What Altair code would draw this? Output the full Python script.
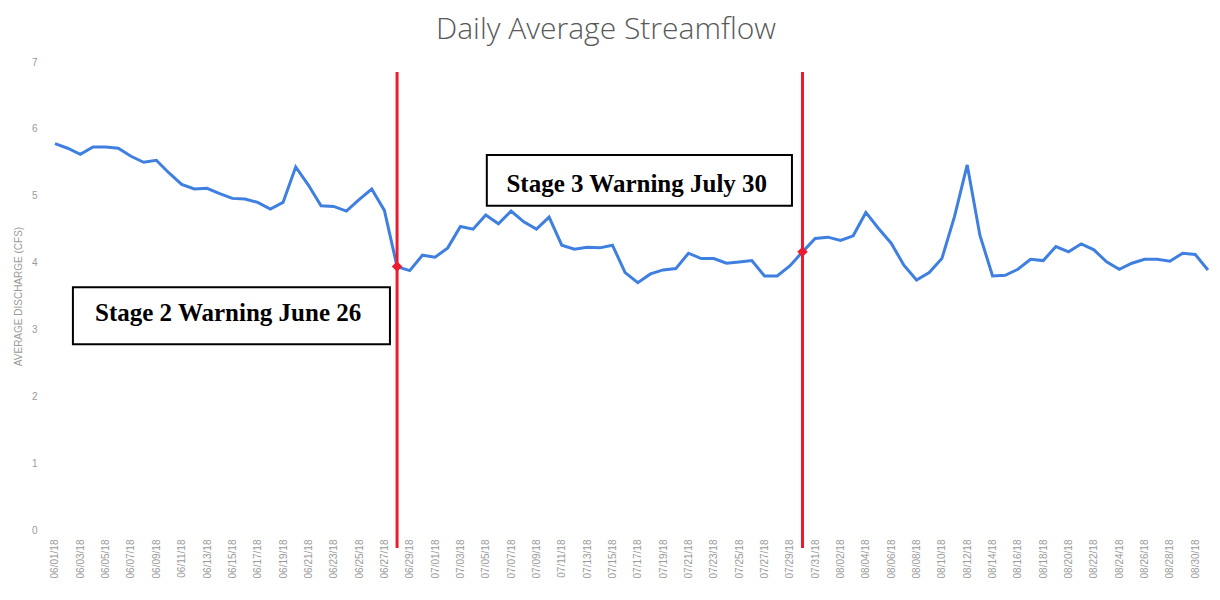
import altair as alt
import pandas as pd

# ---- data ----
dates = [d.strftime("%Y-%m-%d") for d in pd.date_range("2018-06-01", "2018-08-31", freq="D")]
flow = [5.78, 5.71, 5.62, 5.73, 5.73, 5.71, 5.59, 5.50, 5.53, 5.34,
        5.17, 5.10, 5.11, 5.03, 4.96, 4.95, 4.90, 4.80, 4.90, 5.43,
        5.16, 4.85, 4.84, 4.77, 4.94, 5.10, 4.78, 3.94, 3.88, 4.11,
        4.08, 4.22, 4.54, 4.50, 4.71, 4.58, 4.77, 4.61, 4.50, 4.68,
        4.26, 4.20, 4.23, 4.22, 4.26, 3.85, 3.70, 3.83, 3.89, 3.91,
        4.14, 4.06, 4.06, 3.99, 4.01, 4.03, 3.80, 3.80, 3.95, 4.16,
        4.36, 4.38, 4.33, 4.40, 4.75, 4.51, 4.29, 3.96, 3.74, 3.85,
        4.06, 4.69, 5.46, 4.41, 3.80, 3.81, 3.90, 4.05, 4.03, 4.24,
        4.16, 4.28, 4.19, 4.01, 3.90, 3.99, 4.05, 4.05, 4.02, 4.14,
        4.12, 3.89]
warning_dates = ["2018-06-28", "2018-07-30"]
warning_labels = ["Stage 2 Warning June 26", "Stage 3 Warning July 30"]
tick_dates = dates[0:91:2]
y_ticks = [0, 1, 2, 3, 4, 5, 6, 7]

df = pd.DataFrame({"date": dates, "flow": flow})
warn_df = pd.DataFrame({
    "date": warning_dates,
    "flow": [flow[dates.index(d)] for d in warning_dates],
})
one = pd.DataFrame({"k": [0]})


def ms(s):
    return int(pd.Timestamp(s, tz="UTC").value // 10**6)


x_scale = alt.Scale(type="utc", domain=[ms("2018-05-31T10:48"), ms("2018-08-31T07:40")])
y_scale = alt.Scale(domain=[0, 7], nice=False)

BLUE = "#3f7fdf"
RED = "#ec1c2e"
GRAY = "#9a9a9a"

x_axis = alt.Axis(
    values=[ms(d) for d in tick_dates],
    format="%m/%d/%y",
    labelAngle=-90,
    labelColor=GRAY,
    labelFontSize=10,
    labelFont="Liberation Sans",
    labelPadding=9,
    ticks=False,
    domain=False,
    grid=False,
    title=None,
    labelOverlap=False,
    labelBound=False,
)
y_axis = alt.Axis(
    values=y_ticks,
    format="d",
    labelColor=GRAY,
    labelFontSize=10,
    labelFont="Liberation Sans",
    labelPadding=11,
    ticks=False,
    domain=False,
    grid=False,
    title="AVERAGE DISCHARGE (CFS)",
    titleColor=GRAY,
    titleFontSize=10,
    titleFont="Liberation Sans",
    titleFontWeight="normal",
    titlePadding=8,
)

line = alt.Chart(df).mark_line(color=BLUE, strokeWidth=3).encode(
    x=alt.X("date:T", scale=x_scale, axis=x_axis),
    y=alt.Y("flow:Q", scale=y_scale, axis=y_axis),
)

rules = alt.Chart(warn_df).mark_rule(color=RED, strokeWidth=3).encode(
    x=alt.X("date:T", scale=x_scale, axis=x_axis),
    y=alt.datum(6.85, type="quantitative", scale=y_scale, axis=y_axis),
    y2=alt.datum(-0.27),
)

diamonds = alt.Chart(warn_df).mark_point(
    shape="diamond", filled=True, color=RED, size=110, opacity=1
).encode(
    x=alt.X("date:T", scale=x_scale, axis=x_axis),
    y=alt.Y("flow:Q", scale=y_scale, axis=y_axis),
)


def box(x1, x2, y1, y2):
    return alt.Chart(one).mark_rect(
        fill="white", stroke="black", strokeWidth=2
    ).encode(
        x=alt.datum(ms(x1), type="temporal", scale=x_scale, axis=x_axis),
        x2=alt.datum(ms(x2)),
        y=alt.datum(y1, type="quantitative", scale=y_scale, axis=y_axis),
        y2=alt.datum(y2),
    )


def label(text, xc, yc):
    return alt.Chart(one).mark_text(
        text=text, font="Liberation Serif", fontWeight="bold", fontSize=25,
        color="black", align="center", baseline="middle"
    ).encode(
        x=alt.datum(ms(xc), type="temporal", scale=x_scale, axis=x_axis),
        y=alt.datum(yc, type="quantitative", scale=y_scale, axis=y_axis),
    )


box1 = box("2018-06-02T10:00", "2018-06-27T10:30", 3.63, 2.78)
box2 = box("2018-07-05T02:00", "2018-07-29T04:00", 5.61, 4.85)
text1 = label(warning_labels[0], "2018-06-14T16:00", 3.24)
text2 = label(warning_labels[1], "2018-07-16T22:00", 5.18)

chart = alt.layer(line, rules, diamonds, box1, box2, text1, text2).properties(
    width=1164,
    height=468,
    autosize=alt.AutoSizeParams(type="none"),
    padding={"left": 40, "top": 54, "right": 0, "bottom": 56},
    title=alt.TitleParams(
        "Daily Average Streamflow",
        font="Open Sans",
        fontSize=30,
        fontWeight=300,
        color="#595959",
        anchor="middle",
        frame="group",
        dx=-24,
        offset=12,
    ),
).configure_view(stroke=None)

chart.save("out.html", embed_options={"renderer": "svg", "actions": False})
